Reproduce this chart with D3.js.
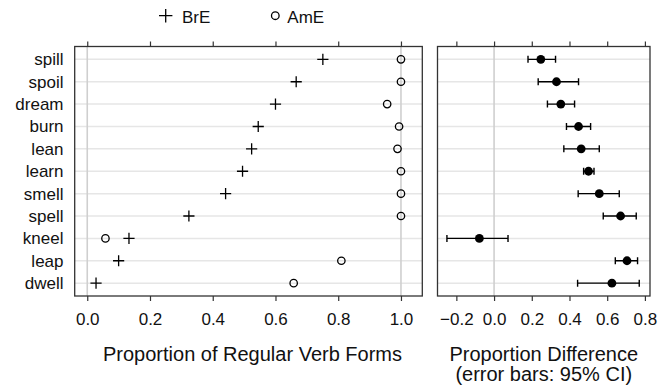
<!DOCTYPE html>
<html>
<head>
<meta charset="utf-8">
<script src="https://cdn.jsdelivr.net/npm/d3@7"></script>
<style>
  body { margin: 0; background: #fff; }
  svg { font-family: "Liberation Sans", Arial, Helvetica, sans-serif; }
</style>
</head>
<body>
<svg id="chart" width="672" height="389"></svg>
<script>
/* Regular verb forms: BrE vs AmE dot plot with difference panel. */

const verbs = ['spill', 'spoil', 'dream', 'burn', 'lean', 'learn', 'smell', 'spell', 'kneel', 'leap', 'dwell'];
const brE = [0.751, 0.666, 0.600, 0.545, 0.524, 0.495, 0.441, 0.324, 0.133, 0.100, 0.028];
const amE = [1.0, 1.0, 0.956, 0.994, 0.989, 1.0, 1.0, 1.0, 0.058, 0.810, 0.658];
const diff = [0.248, 0.331, 0.354, 0.448, 0.462, 0.501, 0.558, 0.671, -0.078, 0.705, 0.625];
const ciLow = [0.180, 0.234, 0.283, 0.384, 0.370, 0.475, 0.446, 0.579, -0.250, 0.643, 0.443];
const ciHigh = [0.326, 0.448, 0.427, 0.512, 0.558, 0.530, 0.664, 0.754, 0.074, 0.761, 0.770];
const leftTicks = [0, 0.2, 0.4, 0.6, 0.8, 1.0];
const rightTicks = [-0.2, 0, 0.2, 0.4, 0.6, 0.8];

const svg = d3.select('#chart');
const panelTop = 46.5, panelBottom = 296;
const fmt = d3.format('.1f');

const y = d3.scalePoint().domain(verbs).range([panelTop, panelBottom]).padding(0.575);
const xL = d3.scaleLinear().domain([-0.04, 1.068]).range([74.7, 422.3]);
const xR = d3.scaleLinear().domain([-0.30, 0.827]).range([437.5, 650]);

function panel(x, ticks, refs) {
  const g = svg.append('g');
  const [x0, x1] = x.range();
  g.selectAll('line.grid').data(verbs).join('line')
    .attr('x1', x0).attr('x2', x1)
    .attr('y1', d => y(d)).attr('y2', d => y(d))
    .attr('stroke', '#e6e6e6').attr('stroke-width', 1.5);
  g.selectAll('line.ref').data(refs).join('line')
    .attr('x1', d => x(d)).attr('x2', d => x(d))
    .attr('y1', panelTop).attr('y2', panelBottom)
    .attr('stroke', '#cfcfcf').attr('stroke-width', 1.6);

  const axTop = g.append('g').attr('transform', `translate(0,${panelTop})`)
    .call(d3.axisTop(x).tickValues(ticks).tickSize(5).tickFormat(''));
  const axBot = g.append('g').attr('transform', `translate(0,${panelBottom})`)
    .call(d3.axisBottom(x).tickValues(ticks).tickSize(5).tickPadding(12).tickFormat(fmt));
  [axTop, axBot].forEach(a => {
    a.select('.domain').remove();
    a.selectAll('.tick line').attr('stroke', '#333').attr('stroke-width', 1.2);
    a.selectAll('.tick text').attr('fill', '#111').attr('font-size', '17px');
  });
  return g;
}

const gL = panel(xL, leftTicks, [0, 1]);
const gR = panel(xR, rightTicks, [0]);

// row labels
svg.append('g').selectAll('text').data(verbs).join('text')
  .attr('x', 63.5).attr('y', d => y(d)).attr('dy', '0.35em')
  .attr('text-anchor', 'end').attr('font-size', '17px').attr('fill', '#111')
  .text(d => d);

// left panel points
const plus = 5.6;
gL.selectAll('path.bre').data(verbs).join('path')
  .attr('d', (d, i) => `M${xL(brE[i]) - plus},${y(d)}h${plus * 2}M${xL(brE[i])},${y(d) - plus}v${plus * 2}`)
  .attr('stroke', '#000').attr('stroke-width', 1.3).attr('fill', 'none');
gL.selectAll('circle.ame').data(verbs).join('circle')
  .attr('cx', (d, i) => xL(amE[i])).attr('cy', d => y(d)).attr('r', 3.7)
  .attr('fill', 'none').attr('stroke', '#000').attr('stroke-width', 1.3);

// right panel error bars + dots
const cap = 3.5;
gR.selectAll('path.ci').data(verbs).join('path')
  .attr('d', (d, i) => {
    const a = xR(ciLow[i]), b = xR(ciHigh[i]), yy = y(d);
    return `M${a},${yy}H${b}M${a},${yy - cap}v${cap * 2}M${b},${yy - cap}v${cap * 2}`;
  })
  .attr('stroke', '#000').attr('stroke-width', 1.4).attr('fill', 'none');
gR.selectAll('circle.diff').data(verbs).join('circle')
  .attr('cx', (d, i) => xR(diff[i])).attr('cy', d => y(d)).attr('r', 4.4)
  .attr('fill', '#000');

// panel borders
[xL, xR].forEach(x => {
  const [x0, x1] = x.range();
  svg.append('rect').attr('x', x0).attr('y', panelTop).attr('width', x1 - x0).attr('height', panelBottom - panelTop)
    .attr('fill', 'none').attr('stroke', '#333').attr('stroke-width', 1.3);
});

// legend
const leg = svg.append('g');
leg.append('path').attr('d', 'M159,15.7h13.4M165.7,9v13.4').attr('stroke', '#000').attr('stroke-width', 1.3);
leg.append('text').attr('x', 182).attr('y', 22.5).attr('font-size', '17px').attr('fill', '#111').text('BrE');
leg.append('circle').attr('cx', 275.3).attr('cy', 15.7).attr('r', 3.8).attr('fill', 'none').attr('stroke', '#000').attr('stroke-width', 1.3);
leg.append('text').attr('x', 287.3).attr('y', 22.5).attr('font-size', '17px').attr('fill', '#111').text('AmE');

// axis titles
svg.append('text').attr('x', d3.mean(xL.range()) + 4).attr('y', 361)
  .attr('text-anchor', 'middle').attr('font-size', '20px').attr('fill', '#111')
  .text('Proportion of Regular Verb Forms');
svg.append('text').attr('x', d3.mean(xR.range())).attr('y', 361)
  .attr('text-anchor', 'middle').attr('font-size', '20px').attr('fill', '#111')
  .text('Proportion Difference');
svg.append('text').attr('x', d3.mean(xR.range())).attr('y', 381)
  .attr('text-anchor', 'middle').attr('font-size', '20px').attr('fill', '#111')
  .text('(error bars: 95% CI)');
</script>
</body>
</html>
